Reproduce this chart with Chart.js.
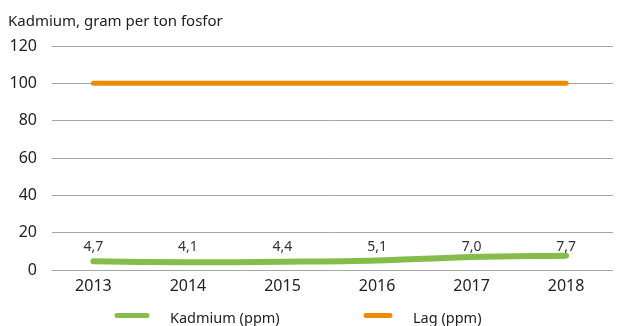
<!DOCTYPE html>
<html>
<head>
    <title>Kadmium</title>
    <script src="https://cdn.jsdelivr.net/npm/chart.js"></script>
    <style>
        html, body {
            margin: 0;
            padding: 0;
            background: #fff;
        }
        #wrap {
            width: 620px;
            height: 326px;
        }
    </style>
</head>
<body>
    <div id="wrap"><canvas id="cdChart" width="620" height="326"></canvas></div>

    <script>
        // Data
        const years = [2013, 2014, 2015, 2016, 2017, 2018];
        const kadmium = [4.7, 4.1, 4.4, 5.1, 7.0, 7.7];
        const lag = [100, 100, 100, 100, 100, 100];
        const yTicks = [0, 20, 40, 60, 80, 100, 120];

        const GREEN = '#86bd4a';
        const ORANGE = '#ee8b00';
        const FONT = '"Noto Sans", Arial, sans-serif';

        const toPoints = vals => vals.map((v, i) => ({ x: years[i], y: v }));
        const fmt = v => v.toFixed(1).replace('.', ',');

        // Value labels above the cadmium line
        const valueLabels = {
            id: 'valueLabels',
            afterDatasetsDraw(chart) {
                const ctx = chart.ctx;
                const xs = chart.scales.x, ys = chart.scales.y;
                ctx.save();
                ctx.font = '14px ' + FONT;
                ctx.fillStyle = '#333';
                ctx.textAlign = 'center';
                ctx.textBaseline = 'alphabetic';
                kadmium.forEach((v, i) => {
                    ctx.fillText(fmt(v), xs.getPixelForValue(years[i]), ys.getPixelForValue(10.4));
                });
                ctx.restore();
            }
        };

        // Legend row under the axis
        const bottomLegend = {
            id: 'bottomLegend',
            afterDraw(chart) {
                const ctx = chart.ctx;
                const items = [
                    { text: 'Kadmium (ppm)', color: GREEN, x: 117, w: 30 },
                    { text: 'Lag (ppm)', color: ORANGE, x: 366, w: 24 }
                ];
                const y = 315.5;
                ctx.save();
                ctx.font = '14.5px ' + FONT;
                ctx.textBaseline = 'middle';
                ctx.fillStyle = '#222';
                items.forEach(it => {
                    ctx.strokeStyle = it.color;
                    ctx.lineWidth = 5;
                    ctx.lineCap = 'round';
                    ctx.beginPath();
                    ctx.moveTo(it.x, y);
                    ctx.lineTo(it.x + it.w, y);
                    ctx.stroke();
                    ctx.fillText(it.text, it.x + it.w + 23, y + 3.5);
                });
                ctx.restore();
            }
        };

        new Chart(document.getElementById('cdChart').getContext('2d'), {
            type: 'line',
            data: {
                datasets: [
                    {
                        label: 'Kadmium (ppm)',
                        data: toPoints(kadmium),
                        borderColor: GREEN,
                        borderWidth: 6,
                        borderCapStyle: 'round',
                        tension: 0.35,
                        pointRadius: 0,
                        fill: false
                    },
                    {
                        label: 'Lag (ppm)',
                        data: toPoints(lag),
                        borderColor: ORANGE,
                        borderWidth: 5,
                        borderCapStyle: 'round',
                        tension: 0,
                        pointRadius: 0,
                        fill: false
                    }
                ]
            },
            options: {
                responsive: false,
                animation: false,
                layout: { padding: { left: 8, right: 7, top: 0, bottom: 30 } },
                plugins: {
                    legend: { display: false },
                    tooltip: { enabled: false },
                    title: {
                        display: true,
                        text: 'Kadmium, gram per ton fosfor',
                        align: 'start',
                        color: '#222',
                        font: { family: FONT, size: 15, weight: 'normal' },
                        padding: { top: 13, bottom: 15 }
                    }
                },
                scales: {
                    x: {
                        type: 'linear',
                        min: 2012.562,
                        max: 2018.496,
                        grid: { display: false, drawTicks: false },
                        border: { display: false },
                        afterFit: s => { s.height = 26; },
                        ticks: {
                            stepSize: 1,
                            includeBounds: false,
                            padding: 7,
                            color: '#222',
                            font: { family: FONT, size: 16 },
                            callback: v => String(v)
                        }
                    },
                    y: {
                        min: 0,
                        max: 120,
                        border: { display: false },
                        grid: { color: '#a6a6a6', lineWidth: 1, drawTicks: false },
                        afterFit: s => { s.width = 44; },
                        afterBuildTicks: s => { s.ticks = yTicks.map(v => ({ value: v })); },
                        ticks: {
                            padding: 15,
                            color: '#222',
                            font: { family: FONT, size: 16 }
                        }
                    }
                }
            },
            plugins: [valueLabels, bottomLegend]
        });
    </script>
</body>
</html>
